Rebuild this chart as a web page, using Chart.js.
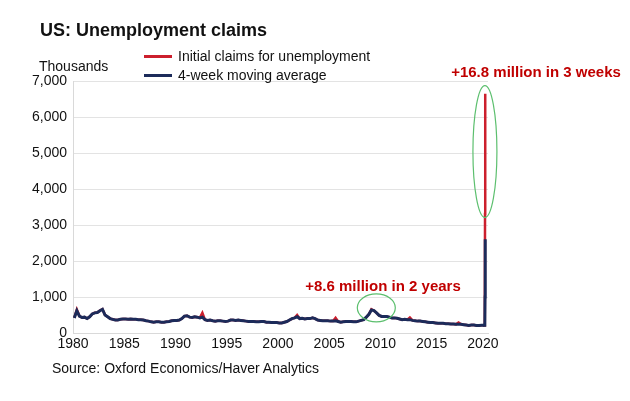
<!DOCTYPE html>
<html>
<head>
<meta charset="utf-8">
<script src="https://cdn.jsdelivr.net/npm/chart.js@4.4.1/dist/chart.umd.min.js"></script>
<style>
body { margin: 0; background: #fff; font-family: "Liberation Sans", Arial, sans-serif; }
#wrap { position: relative; width: 630px; height: 401px; overflow: hidden; }
#wrap canvas { position: absolute; left: 0; top: 0; }
.txt { position: absolute; white-space: nowrap; line-height: 1; color: #111; }
.key { position: absolute; left: 144px; width: 28px; height: 3px; }
</style>
</head>
<body>
<div id="wrap">
  <canvas id="claims" width="630" height="401"></canvas>
  <div class="txt" style="left:40px;top:21px;font-size:18px;font-weight:bold;">US: Unemployment claims</div>
  <div class="txt" style="left:39px;top:59px;font-size:14px;">Thousands</div>
  <div class="key" style="top:55px;background:#cc1f2d;"></div>
  <div class="txt" style="left:178px;top:49px;font-size:14px;">Initial claims for unemployment</div>
  <div class="key" style="top:74px;background:#1c2b5a;"></div>
  <div class="txt" style="left:178px;top:68px;font-size:14px;">4-week moving average</div>
  <div class="txt" style="left:52px;top:361px;font-size:14px;">Source: Oxford Economics/Haver Analytics</div>
</div>
<script>
// moyennes trimestrielles 1980-2019 (milliers)
const quarterlyAvg = [
    420, 620, 470, 430,   440, 400, 450, 530,   560, 570, 620, 660,   500, 450, 400, 380,
    360, 360, 380, 390,   390, 380, 390, 380,   380, 370, 370, 360,   340, 330, 310, 300,
    310, 310, 300, 300,   310, 320, 340, 350,   350, 360, 400, 470,   480, 440, 430, 450,
    440, 420, 440, 370,   350, 360, 340, 330,   340, 340, 330, 320,   330, 360, 360, 350,
    360, 350, 340, 330,   320, 320, 320, 310,   310, 320, 320, 300,   300, 290, 290, 290,
    280, 280, 300, 320,   360, 400, 420, 450,   400, 410, 390, 400,   400, 420, 400, 360,
    350, 340, 340, 340,   330, 330, 340, 320,   300, 310, 320, 320,   320, 310, 310, 330,
    350, 370, 440, 520,   640, 620, 560, 490,   460, 460, 460, 440,   420, 420, 410, 390,
    370, 380, 370, 370,   350, 340, 330, 330,   320, 310, 300, 290,   290, 280, 270, 270,
    270, 260, 260, 250,   250, 240, 240, 240,   230, 220, 210, 220,   220, 210, 210, 215
];
// demandes initiales, meme periode (pics visibles en rouge)
const quarterlyInitial = [
    420, 650, 470, 430,   440, 400, 450, 530,   560, 570, 620, 660,   500, 450, 400, 380,
    360, 360, 380, 390,   390, 380, 390, 380,   380, 370, 370, 360,   340, 330, 310, 300,
    310, 310, 300, 300,   310, 320, 340, 350,   350, 360, 400, 470,   480, 440, 430, 450,
    440, 420, 560, 370,   350, 360, 340, 330,   340, 340, 330, 320,   330, 360, 360, 350,
    360, 350, 340, 330,   320, 320, 320, 310,   310, 320, 320, 300,   300, 290, 290, 290,
    280, 280, 300, 320,   360, 400, 420, 500,   400, 410, 390, 400,   400, 420, 400, 360,
    350, 340, 340, 340,   330, 330, 420, 320,   300, 310, 320, 320,   320, 310, 310, 330,
    350, 370, 440, 520,   660, 620, 560, 490,   460, 460, 460, 440,   420, 420, 410, 390,
    370, 380, 370, 430,   350, 340, 330, 330,   320, 310, 300, 290,   290, 280, 270, 270,
    270, 260, 260, 250,   250, 240, 290, 240,   230, 220, 210, 220,   220, 210, 210, 215
];
// semaines de 2020
const weeks2020 = [2020.0, 2020.1, 2020.17, 2020.19, 2020.21, 2020.23];
const avg2020 = [215, 212, 215, 232, 1002, 2604];
const initial2020 = [212, 215, 211, 282, 3307, 6648];

const xTicks = [1980, 1985, 1990, 1995, 2000, 2005, 2010, 2015, 2020];
const yTicks = [0, 1000, 2000, 3000, 4000, 5000, 6000, 7000];

function toPoints(quarterly, weekDates, weekly) {
    const pts = quarterly.map((v, i) => ({ x: 1980 + i / 4 + 0.125, y: v }));
    weekDates.forEach((d, i) => pts.push({ x: d, y: weekly[i] }));
    return pts;
}

const annotations = {
    id: 'annotations',
    afterDatasetsDraw(chart) {
        const { ctx, scales: { x, y } } = chart;
        ctx.save();
        ctx.strokeStyle = '#5cbf6e';
        ctx.lineWidth = 1.2;
        ctx.beginPath();
        ctx.ellipse(x.getPixelForValue(2020.2), y.getPixelForValue(5040), 12, 66, 0, 0, Math.PI * 2);
        ctx.stroke();
        ctx.beginPath();
        ctx.ellipse(x.getPixelForValue(2009.6), y.getPixelForValue(700), 19, 14, 0, 0, Math.PI * 2);
        ctx.stroke();

        ctx.fillStyle = '#c00000';
        ctx.font = 'bold 15px "Liberation Sans", Arial, sans-serif';
        ctx.textAlign = 'center';
        ctx.textBaseline = 'middle';
        ctx.fillText('+16.8 million in 3 weeks', 536, 73);
        ctx.fillText('+8.6 million in 2 years', 383, 287);
        ctx.restore();
    }
};

const ctx = document.getElementById('claims').getContext('2d');
new Chart(ctx, {
    type: 'line',
    data: {
        datasets: [{
            label: '4-week moving average',
            data: toPoints(quarterlyAvg, weeks2020, avg2020),
            borderColor: '#1c2b5a',
            borderWidth: 3,
            pointRadius: 0,
            tension: 0,
            order: 0
        }, {
            label: 'Initial claims for unemployment',
            data: toPoints(quarterlyInitial, weeks2020, initial2020),
            borderColor: '#cc1f2d',
            borderWidth: 2.5,
            pointRadius: 0,
            tension: 0,
            order: 1
        }]
    },
    options: {
        responsive: false,
        animation: false,
        devicePixelRatio: 1,
        layout: { padding: { left: 0, right: 142, top: 81, bottom: 40 } },
        plugins: {
            legend: { display: false },
            tooltip: { enabled: false }
        },
        scales: {
            x: {
                type: 'linear',
                min: 1980,
                max: 2020.5,
                afterBuildTicks: (scale) => { scale.ticks = xTicks.map(v => ({ value: v })); },
                afterFit: (scale) => { scale.height = 28; },
                grid: { display: false, drawTicks: false },
                border: { color: '#d9d9d9', width: 1 },
                ticks: {
                    color: '#111',
                    padding: 3,
                    maxRotation: 0,
                    font: { family: '"Liberation Sans", Arial, sans-serif', size: 14 },
                    callback: (v) => String(v)
                }
            },
            y: {
                min: 0,
                max: 7000,
                afterBuildTicks: (scale) => { scale.ticks = yTicks.map(v => ({ value: v })); },
                afterFit: (scale) => { scale.width = 73; },
                grid: { color: '#e3e3e3', drawTicks: false },
                border: { color: '#d9d9d9', width: 1 },
                ticks: {
                    color: '#111',
                    padding: 6,
                    font: { family: '"Liberation Sans", Arial, sans-serif', size: 14 },
                    callback: (v) => v.toLocaleString('en-US')
                }
            }
        }
    },
    plugins: [annotations]
});
</script>
</body>
</html>
